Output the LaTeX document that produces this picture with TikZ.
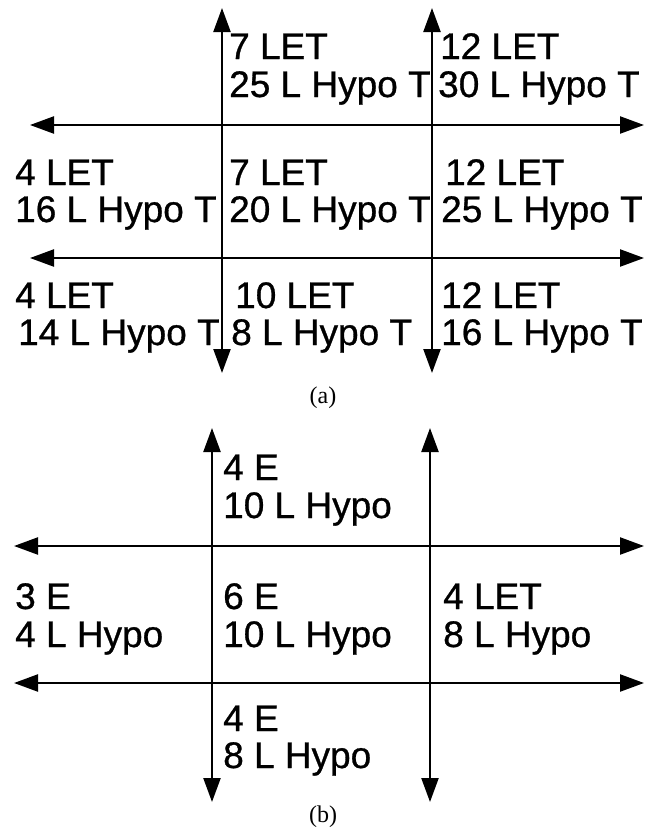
\documentclass[tikz,border=0pt]{standalone}
\usepackage{fontspec}
\setmainfont{Liberation Sans}
\newfontfamily\capfont{Liberation Serif}
% slightly heavier sans for the cell labels
\font\lblfnt="Liberation Sans:embolden=0.8" at 37pt
\usetikzlibrary{arrows.meta}
\begin{document}
\begin{tikzpicture}[x=1pt,y=-1pt,
  axis/.style={line width=2.3pt,{Triangle[length=24pt,width=17pt]}-{Triangle[length=24pt,width=17pt]}},
  lbl/.style={anchor=base west,inner sep=0pt,font=\lblfnt},
  captext/.style={anchor=base,inner sep=0pt,font=\capfont\fontsize{24}{24}\selectfont}]
\useasboundingbox (0,0) rectangle (645,828);

% ---------- panel (a) ----------
\coordinate (aV1t) at (222,8);   \coordinate (aV1b) at (222,373);
\coordinate (aV2t) at (432,8);   \coordinate (aV2b) at (432,373);
\coordinate (aH1l) at (30,125);  \coordinate (aH1r) at (644,125);
\coordinate (aH2l) at (30,258);  \coordinate (aH2r) at (644,258);
\draw[axis] (aV1b) -- (aV1t);
\draw[axis] (aV2b) -- (aV2t);
\draw[axis] (aH1l) -- (aH1r);
\draw[axis] (aH2l) -- (aH2r);

% top row
\node[lbl] (a12a) at (229,59) {7 LET};
\node[lbl] (a12b) at (229,97) {25 L Hypo T};
\node[lbl] (a13a) at (440,59) {12 LET};
\node[lbl] (a13b) at (438,97) {30 L Hypo T};
% middle row
\node[lbl] (a21a) at (15,185) {4 LET};
\node[lbl] (a21b) at (15,222) {16 L Hypo T};
\node[lbl] (a22a) at (229,185) {7 LET};
\node[lbl] (a22b) at (229,222) {20 L Hypo T};
\node[lbl] (a23a) at (445,185) {12 LET};
\node[lbl] (a23b) at (441,222) {25 L Hypo T};
% bottom row
\node[lbl] (a31a) at (15,308) {4 LET};
\node[lbl] (a31b) at (18,345) {14 L Hypo T};
\node[lbl] (a32a) at (235,308) {10 LET};
\node[lbl] (a32b) at (231,345) {8 L Hypo T};
\node[lbl] (a33a) at (441,308) {12 LET};
\node[lbl] (a33b) at (441,345) {16 L Hypo T};

\node[captext] (capa) at (323,403) {(a)};

% ---------- panel (b) ----------
\coordinate (bV1t) at (212,428); \coordinate (bV1b) at (212,802);
\coordinate (bV2t) at (430,428); \coordinate (bV2b) at (430,802);
\coordinate (bH1l) at (14,546);  \coordinate (bH1r) at (644,546);
\coordinate (bH2l) at (14,683);  \coordinate (bH2r) at (644,683);
\draw[axis] (bV1b) -- (bV1t);
\draw[axis] (bV2b) -- (bV2t);
\draw[axis] (bH1l) -- (bH1r);
\draw[axis] (bH2l) -- (bH2r);

\node[lbl] (b12a) at (223,480) {4 E};
\node[lbl] (b12b) at (223,518) {10 L Hypo};
\node[lbl] (b21a) at (15,609) {3 E};
\node[lbl] (b21b) at (15,647) {4 L Hypo};
\node[lbl] (b22a) at (223,609) {6 E};
\node[lbl] (b22b) at (223,647) {10 L Hypo};
\node[lbl] (b23a) at (443,609) {4 LET};
\node[lbl] (b23b) at (443,647) {8 L Hypo};
\node[lbl] (b32a) at (223,731) {4 E};
\node[lbl] (b32b) at (223,768) {8 L Hypo};

\node[captext] (capb) at (323,822) {(b)};
\end{tikzpicture}
\end{document}
